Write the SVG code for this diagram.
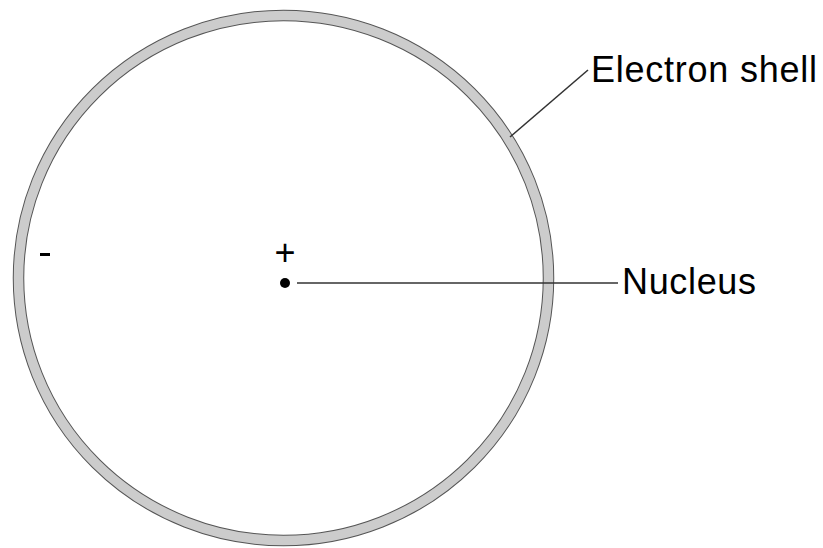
<svg xmlns="http://www.w3.org/2000/svg" width="823" height="548" viewBox="0 0 823 548">
<style>
.lbl{font-family:"Liberation Sans",Arial,sans-serif;font-size:36px;fill:#000}
.lead{stroke:#333;stroke-width:1.6;fill:none}
</style>
<rect width="823" height="548" fill="#fff"/>
<g id="shell">
<ellipse cx="283.5" cy="278" rx="265" ry="262.5" fill="none" stroke="#555" stroke-width="11.5"/>
<ellipse cx="283.5" cy="278" rx="265" ry="262.5" fill="none" stroke="#cccccc" stroke-width="9.5"/>
</g>
<g id="nucleus">
<circle cx="285" cy="283" r="5" fill="#000"/>
<text x="285" y="265" class="lbl" font-size="32" text-anchor="middle">+</text>
</g>
<g id="electron">
<rect x="40" y="253" width="10" height="3" fill="#000"/>
</g>
<g id="connectors">
<line x1="297" y1="283" x2="618" y2="283" class="lead"/>
<line x1="510" y1="137" x2="588" y2="70" class="lead"/>
</g>
<g id="labels">
<text x="591" y="82" class="lbl" textLength="226" lengthAdjust="spacing">Electron shell</text>
<text x="622" y="294" class="lbl" textLength="134" lengthAdjust="spacing">Nucleus</text>
</g>
</svg>
